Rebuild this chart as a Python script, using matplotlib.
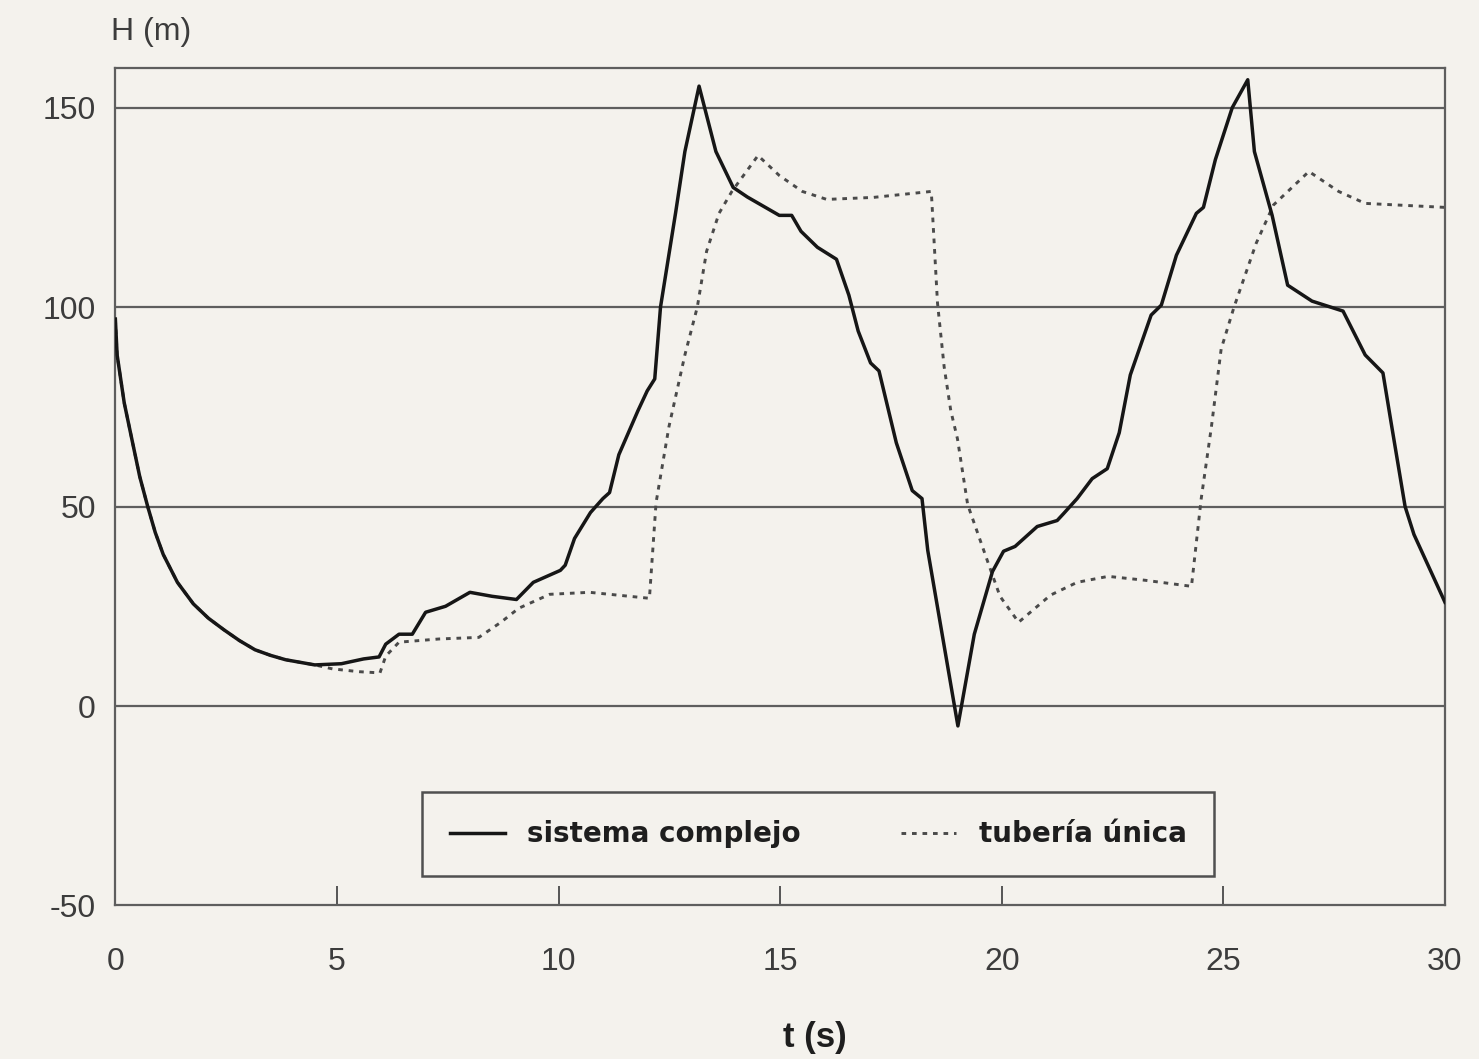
import matplotlib
matplotlib.use('Agg')
import matplotlib.pyplot as plt

# sistema complejo (solid)
t_sc = [0.0, 0.04, 0.2, 0.37, 0.55, 0.73, 0.9, 1.08, 1.4, 1.76, 2.1, 2.45, 2.8, 3.15,
        3.5, 3.84, 4.5, 5.1, 5.6, 5.95, 6.1,
        6.4, 6.7, 7.0, 7.45, 8.0, 8.5, 9.05, 9.43, 10.04, 10.15, 10.36, 10.72, 11.0,
        11.15, 11.36, 11.79, 12.0, 12.17, 12.3, 12.64, 12.85, 13.17, 13.55, 13.94,
        14.26, 14.98, 15.26, 15.47, 15.84, 16.27, 16.55, 16.76, 17.04, 17.23, 17.62,
        17.98, 18.2, 18.33, 19.01, 19.38, 19.79, 20.04, 20.3, 20.8, 21.25, 21.4, 21.7,
        22.04, 22.38, 22.65, 22.9, 23.37, 23.6, 23.94, 24.39, 24.55, 24.82, 25.2,
        25.55, 25.7, 26.1, 26.45, 27.0, 27.7, 28.2, 28.6, 28.8, 29.1, 29.3, 30.0]
H_sc = [97, 88, 76, 67, 57.5, 50, 43.5, 38, 31, 25.6, 22, 19.1, 16.4, 14.1,
        12.7, 11.6, 10.3, 10.6, 11.8, 12.3, 15.5,
        18, 18, 23.5, 25, 28.5, 27.5, 26.7, 31, 34, 35.3, 42, 48.5, 52,
        53.5, 63, 74, 79, 82, 100, 123.6, 139, 155.4, 139, 130,
        127.6, 123, 123, 119, 115, 112, 103, 94, 86, 84, 66,
        54, 52, 39, -5, 18, 33.7, 38.8, 40, 45, 46.5, 48.3, 52,
        57, 59.5, 68.5, 83, 98, 100.5, 113, 123.5, 125, 137, 150,
        157, 139, 123, 105.5, 101.5, 99, 88, 83.5, 70, 50, 43, 26]

# tuberia unica (dotted)
t_tu = [0.0, 0.04, 0.2, 0.37, 0.55, 0.73, 0.9, 1.08, 1.4, 1.76, 2.1, 2.45, 2.8, 3.15,
        3.5, 3.84, 4.5, 4.9, 5.5, 5.97, 6.1,
        6.4, 7.3, 8.2, 8.7, 9.1, 9.8, 10.7, 12.05, 12.2, 12.49, 12.85, 13.13, 13.34,
        13.62, 13.91, 14.5, 14.98, 15.5, 16.05, 17.1, 18.41, 18.55, 18.7, 18.85, 19.0,
        19.23, 19.72, 19.96, 20.38, 21.1, 21.7, 22.4, 23.25, 24.28, 24.5, 24.73, 24.95,
        25.24, 25.74, 26.13, 26.93, 27.6, 28.2, 30.0]
H_tu = [97, 88, 76, 67, 57.5, 50, 43.5, 38, 31, 25.6, 22, 19.1, 16.4, 14.1,
        12.7, 11.6, 10.3, 9.3, 8.6, 8.3, 12.5,
        16, 16.8, 17.2, 21, 24.5, 28, 28.5, 27, 51, 70, 88, 100, 114,
        123.5, 129, 138, 133, 129, 127, 127.5, 129, 101, 85, 74, 67,
        50.5, 35, 27.5, 21, 27.8, 31, 32.5, 31.5, 30, 52, 70, 89.5,
        100, 116, 125.6, 134, 129, 126, 125]

xticks = [0, 5, 10, 15, 20, 25, 30]
yticks = [-50, 0, 50, 100, 150]
ylabels = ['-50', '0', '50', '100', '150']

plt.rcParams['font.family'] = ['Liberation Sans', 'DejaVu Sans']
bg = '#f4f2ed'
ink = '#3c3c3c'

fig = plt.figure(figsize=(14.79, 10.59), dpi=100, facecolor=bg)
ax = fig.add_axes([0.078, 0.145, 0.899, 0.791])
ax.set_facecolor(bg)

for y in [0, 50, 100, 150]:
    ax.axhline(y, color='#5e5e5e', lw=1.6, zorder=1)

ax.plot(t_sc, H_sc, color='#161616', lw=2.5, label='sistema complejo', zorder=3)
ax.plot(t_tu, H_tu, color='#4a4a4a', lw=2.1, ls=(0, (1.6, 2.0)),
        label='tubería única', zorder=2)

ax.set_xlim(0, 30)
ax.set_ylim(-50, 160)
ax.set_xticks(xticks)
ax.set_yticks(yticks)
ax.set_yticklabels(ylabels)
ax.tick_params(axis='x', direction='in', length=14, width=1.4, pad=30,
               labelsize=23, color='#555', labelcolor=ink)
ax.tick_params(axis='y', length=0, pad=14, labelsize=23, labelcolor=ink)
for s in ax.spines.values():
    s.set_color('#5e5e5e')
    s.set_linewidth(1.6)

leg = ax.legend(loc='center', bbox_to_anchor=(0.22, 0.025, 0.617, 0.12), ncol=2,
                mode='expand', fancybox=False, edgecolor='#505050', facecolor=bg,
                framealpha=1, prop={'family': 'DejaVu Sans', 'weight': 'bold', 'size': 20},
                handlelength=2.0, handletextpad=0.8, columnspacing=2.0, borderpad=1.0)
leg.get_frame().set_linewidth(1.8)
for txt in leg.get_texts():
    txt.set_color('#1e1e1e')

fig.text(0.075, 0.97, 'H (m)', ha='left', va='center', fontsize=23, color=ink)
fig.text(0.551, 0.02, 't (s)', ha='center', va='center', fontsize=25,
         fontweight='bold', color='#1e1e1e')

fig.savefig('out.png', dpi=100, facecolor=bg)
